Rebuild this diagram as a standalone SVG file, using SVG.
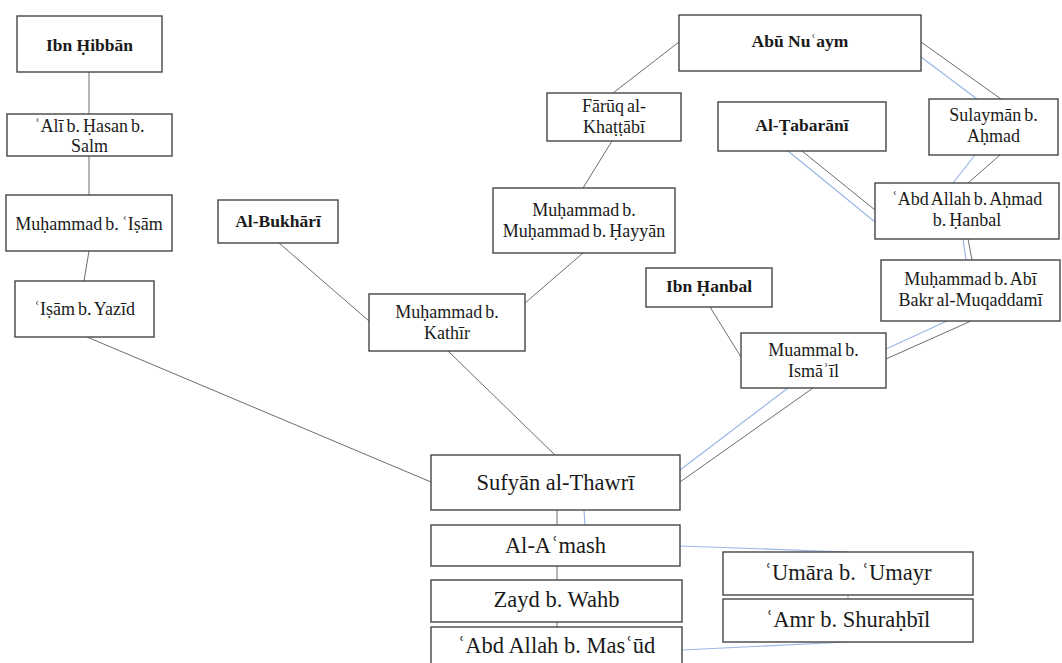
<svg xmlns="http://www.w3.org/2000/svg" width="1062" height="663" viewBox="0 0 1062 663">
  <style>
    .box { fill: #ffffff; stroke: #454545; stroke-width: 1.4; }
    .edge { fill: none; stroke: #6e6e6e; stroke-width: 1; }
    .alt { fill: none; stroke: #9bb6e6; stroke-width: 1.2; }
    text { font-family: "Liberation Serif", "DejaVu Serif", serif; fill: #1a1a1a; text-anchor: middle; }
    .t { font-size: 18px; word-spacing: -1.5px; }
    .b { font-size: 17.5px; font-weight: bold; }
    .big { font-size: 22.5px; }
  </style>
  <rect width="1062" height="663" fill="#ffffff"/>

  <!-- transmission lines -->
  <g id="connectors">
    <line class="edge" x1="89" y1="72" x2="89" y2="114"/>
    <line class="edge" x1="89" y1="156" x2="89" y2="195"/>
    <line class="edge" x1="89" y1="251" x2="84" y2="281"/>
    <line class="edge" x1="87" y1="337" x2="431" y2="482"/>
    <line class="edge" x1="279" y1="243" x2="369" y2="321"/>
    <line class="edge" x1="448" y1="351" x2="555" y2="455"/>
    <line class="edge" x1="679" y1="42" x2="613" y2="93"/>
    <line class="edge" x1="612" y1="141" x2="583" y2="188"/>
    <line class="edge" x1="583" y1="253" x2="525" y2="303"/>
    <line class="edge" x1="921" y1="42" x2="1001" y2="99"/>
    <line class="alt" x1="921" y1="57" x2="977" y2="99"/>
    <line class="edge" x1="802" y1="151" x2="875" y2="210"/>
    <line class="alt" x1="788" y1="151" x2="875" y2="222"/>
    <line class="edge" x1="1000" y1="155" x2="968" y2="183"/>
    <line class="alt" x1="975" y1="155" x2="953" y2="183"/>
    <line class="edge" x1="968" y1="239" x2="972" y2="260"/>
    <line class="alt" x1="963" y1="239" x2="966" y2="260"/>
    <line class="edge" x1="971" y1="321" x2="886" y2="359"/>
    <line class="alt" x1="947" y1="321" x2="886" y2="349"/>
    <line class="edge" x1="710" y1="307" x2="741" y2="357"/>
    <line class="edge" x1="813" y1="388" x2="680" y2="482"/>
    <line class="alt" x1="788" y1="388" x2="680" y2="470"/>
    <line class="edge" x1="557" y1="510" x2="557" y2="525"/>
    <line class="alt" x1="584" y1="510" x2="585" y2="525"/>
    <line class="edge" x1="557" y1="566" x2="557" y2="580"/>
    <line class="edge" x1="557" y1="622" x2="557" y2="627"/>
    <line class="alt" x1="680" y1="546" x2="847" y2="552"/>
    <line class="alt" x1="848" y1="595" x2="848" y2="599"/>
    <line class="alt" x1="682" y1="650" x2="847" y2="642"/>
  </g>

  <g id="ibn-hibban">
    <rect class="box" x="17" y="16" width="145" height="56"/>
    <text class="b" x="89.5" y="51">Ibn Ḥibbān</text>
  </g>
  <g id="ali-b-hasan">
    <rect class="box" x="7" y="114" width="165" height="42"/>
    <text class="t" x="89.5" y="132">ʿAlī b. Ḥasan b.</text>
    <text class="t" x="89.5" y="152">Salm</text>
  </g>
  <g id="muhammad-b-isam">
    <rect class="box" x="6" y="195" width="166" height="56"/>
    <text class="t" x="89" y="230">Muḥammad b. ʿIṣām</text>
  </g>
  <g id="isam-b-yazid">
    <rect class="box" x="15" y="281" width="139" height="56"/>
    <text class="t" x="84.5" y="315">ʿIṣām b. Yazīd</text>
  </g>
  <g id="al-bukhari">
    <rect class="box" x="218" y="200" width="120" height="43"/>
    <text class="b" x="278" y="227">Al-Bukhārī</text>
  </g>
  <g id="muhammad-b-kathir">
    <rect class="box" x="369" y="294" width="156" height="57"/>
    <text class="t" x="447" y="318">Muḥammad b.</text>
    <text class="t" x="447" y="339">Kathīr</text>
  </g>
  <g id="abu-nuaym">
    <rect class="box" x="679" y="15" width="242" height="56"/>
    <text class="b" x="800" y="47">Abū Nuʿaym</text>
  </g>
  <g id="faruq-al-khattabi">
    <rect class="box" x="547" y="93" width="134" height="48"/>
    <text class="t" x="614" y="112">Fārūq al-</text>
    <text class="t" x="614" y="133">Khaṭṭābī</text>
  </g>
  <g id="muhammad-b-hayyan">
    <rect class="box" x="493" y="188" width="182" height="65"/>
    <text class="t" x="584" y="216">Muḥammad b.</text>
    <text class="t" x="584" y="237">Muḥammad b. Ḥayyān</text>
  </g>
  <g id="al-tabarani">
    <rect class="box" x="718" y="102" width="168" height="49"/>
    <text class="b" x="802" y="131">Al-Ṭabarānī</text>
  </g>
  <g id="sulayman-b-ahmad">
    <rect class="box" x="929" y="99" width="129" height="56"/>
    <text class="t" x="993.5" y="121">Sulaymān b.</text>
    <text class="t" x="993.5" y="142">Aḥmad</text>
  </g>
  <g id="abd-allah-b-ahmad">
    <rect class="box" x="875" y="183" width="184" height="56"/>
    <text class="t" x="967" y="205">ʿAbd Allah b. Aḥmad</text>
    <text class="t" x="967" y="226">b. Ḥanbal</text>
  </g>
  <g id="muhammad-b-abi-bakr">
    <rect class="box" x="881" y="260" width="179" height="61"/>
    <text class="t" x="970.5" y="285">Muḥammad b. Abī</text>
    <text class="t" x="970.5" y="306">Bakr al-Muqaddamī</text>
  </g>
  <g id="ibn-hanbal">
    <rect class="box" x="646" y="268" width="126" height="39"/>
    <text class="b" x="709" y="292">Ibn Ḥanbal</text>
  </g>
  <g id="muammal-b-ismail">
    <rect class="box" x="741" y="333" width="145" height="55"/>
    <text class="t" x="813.5" y="356">Muammal b.</text>
    <text class="t" x="813.5" y="377">Ismāʾīl</text>
  </g>
  <g id="sufyan-al-thawri">
    <rect class="box" x="431" y="455" width="249" height="55"/>
    <text class="big" x="555.5" y="490">Sufyān al-Thawrī</text>
  </g>
  <g id="al-amash">
    <rect class="box" x="431" y="525" width="249" height="41"/>
    <text class="big" x="555.5" y="553">Al-Aʿmash</text>
  </g>
  <g id="zayd-b-wahb">
    <rect class="box" x="431" y="580" width="251" height="42"/>
    <text class="big" x="556.5" y="607">Zayd b. Wahb</text>
  </g>
  <g id="abd-allah-b-masud">
    <rect class="box" x="431" y="627" width="251" height="50"/>
    <text class="big" x="556.5" y="653">ʿAbd Allah b. Masʿūd</text>
  </g>
  <g id="umara-b-umayr">
    <rect class="box" x="723" y="552" width="250" height="43"/>
    <text class="big" x="848" y="580">ʿUmāra b. ʿUmayr</text>
  </g>
  <g id="amr-b-shurahbil">
    <rect class="box" x="723" y="599" width="250" height="43"/>
    <text class="big" x="848" y="627">ʿAmr b. Shuraḥbīl</text>
  </g>
</svg>
